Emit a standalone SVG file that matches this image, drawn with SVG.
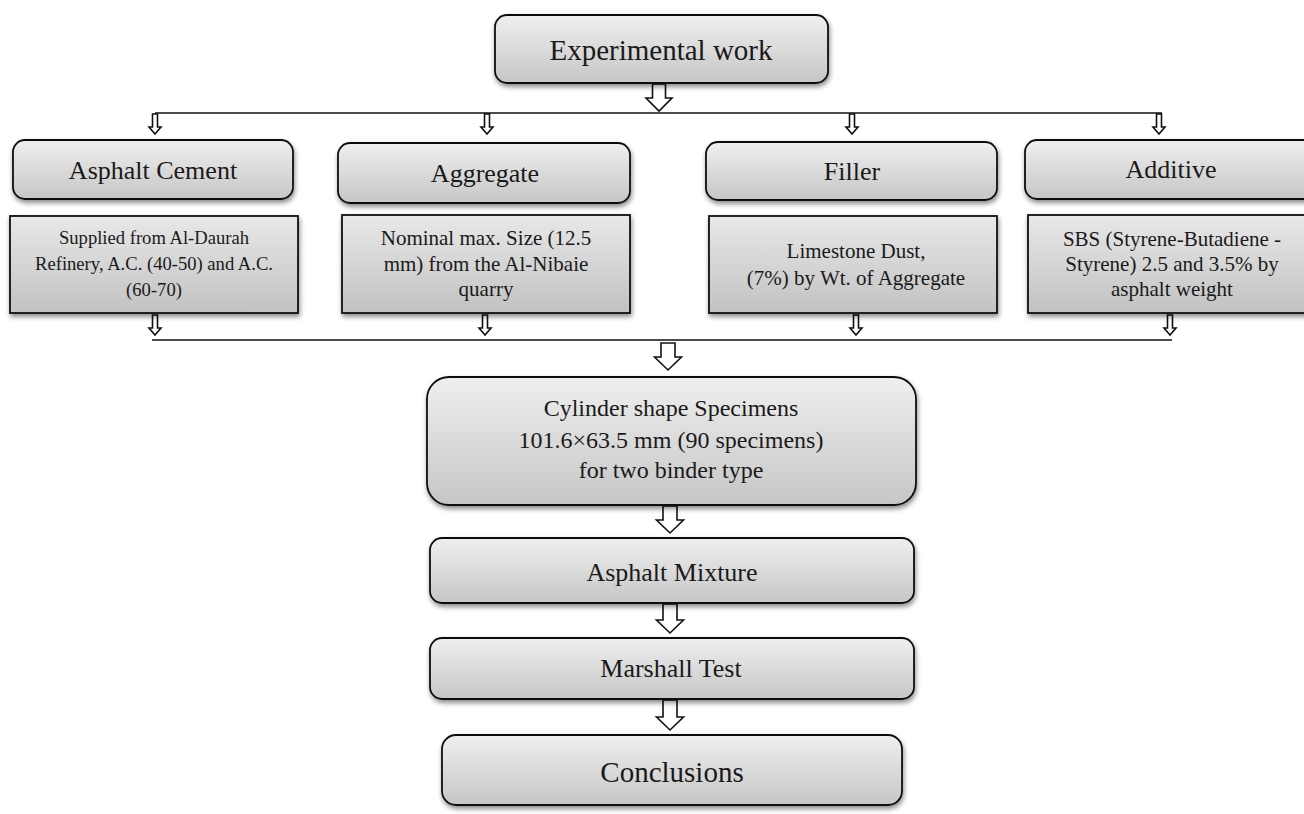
<svg xmlns="http://www.w3.org/2000/svg" width="1304" height="814" viewBox="0 0 1304 814">
  <defs>
    <linearGradient id="g" x1="0" y1="0" x2="0" y2="1">
      <stop offset="0" stop-color="#efefef"/>
      <stop offset="1" stop-color="#c6c6c6"/>
    </linearGradient>
    <linearGradient id="gd" x1="0" y1="0" x2="0" y2="1">
      <stop offset="0" stop-color="#e8e8e8"/>
      <stop offset="1" stop-color="#c2c2c2"/>
    </linearGradient>
    <filter id="sh" x="-10%" y="-10%" width="120%" height="140%">
      <feDropShadow dx="1" dy="3" stdDeviation="2.5" flood-color="#000" flood-opacity="0.45"/>
    </filter>
  </defs>
  <style>
    .box { fill: url(#g); stroke: #111; stroke-width: 1.8; filter: url(#sh); }
    .dbox { fill: url(#gd); stroke: #111; stroke-width: 1.8; filter: url(#sh); }
    .t { font-family: "Liberation Serif", "Times New Roman", serif; fill: #1a1a1a; text-anchor: middle; }
    .big { font-size: 29px; }
    .mid { font-size: 26px; }
    .cyl { font-size: 24px; }
    .sm { font-size: 21px; }
    .xs { font-size: 18.6px; }
    .line { stroke: #111; stroke-width: 1.6; fill: none; }
    .arr { fill: #fff; stroke: #111; stroke-width: 1.6; stroke-linejoin: miter; }
  </style>
  <rect width="1304" height="814" fill="#fff"/>

  <g id="connectors">
    <line class="line" x1="155" y1="113" x2="1162" y2="113"/>
    <line class="line" x1="152" y1="340" x2="1172" y2="340"/>
    <!-- big arrows -->
    <path class="arr" d="M652.5,84 L665.5,84 L665.5,98 L672,98 L659,111 L646,98 L652.5,98 Z"/>
    <path class="arr" d="M661,343 L675,343 L675,357 L681.5,357 L668,370 L654.5,357 L661,357 Z"/>
    <path class="arr" d="M663,506 L677,506 L677,520 L683.5,520 L670,533 L656.5,520 L663,520 Z"/>
    <path class="arr" d="M663,604 L677,604 L677,620 L683.5,620 L670,633 L656.5,620 L663,620 Z"/>
    <path class="arr" d="M663,700 L677,700 L677,717 L683.5,717 L670,730 L656.5,717 L663,717 Z"/>
    <!-- small arrows top -->
    <path class="arr" d="M152.5,114 L157.5,114 L157.5,127 L161,127 L155,134 L149,127 L152.5,127 Z"/>
    <path class="arr" d="M484.5,114 L489.5,114 L489.5,127 L493,127 L487,134 L481,127 L484.5,127 Z"/>
    <path class="arr" d="M849.5,114 L854.5,114 L854.5,127 L858,127 L852,134 L846,127 L849.5,127 Z"/>
    <path class="arr" d="M1156.5,114 L1161.5,114 L1161.5,127 L1165,127 L1159,134 L1153,127 L1156.5,127 Z"/>
    <!-- small arrows bottom -->
    <path class="arr" d="M152.5,315 L157.5,315 L157.5,328 L161,328 L155,335 L149,328 L152.5,328 Z"/>
    <path class="arr" d="M482.5,315 L487.5,315 L487.5,328 L491,328 L485,335 L479,328 L482.5,328 Z"/>
    <path class="arr" d="M853.5,315 L858.5,315 L858.5,328 L862,328 L856,335 L850,328 L853.5,328 Z"/>
    <path class="arr" d="M1167.5,315 L1172.5,315 L1172.5,328 L1176,328 L1170,335 L1164,328 L1167.5,328 Z"/>
  </g>

  <g id="experimental-work">
    <rect class="box" x="495" y="15" width="333" height="68" rx="12"/>
    <text class="t big" x="661" y="60">Experimental work</text>
  </g>

  <g id="asphalt-cement">
    <rect class="box" x="13" y="140" width="280" height="59" rx="12"/>
    <text class="t mid" x="153" y="179">Asphalt Cement</text>
  </g>
  <g id="asphalt-cement-detail">
    <rect class="dbox" x="10" y="216" width="288" height="97"/>
    <text class="t xs" x="154" y="244">Supplied from Al-Daurah</text>
    <text class="t xs" x="154" y="270">Refinery, A.C. (40-50) and A.C.</text>
    <text class="t xs" x="154" y="296">(60-70)</text>
  </g>

  <g id="aggregate">
    <rect class="box" x="338" y="143" width="292" height="60" rx="12"/>
    <text class="t mid" x="485" y="182">Aggregate</text>
  </g>
  <g id="aggregate-detail">
    <rect class="dbox" x="342" y="215" width="288" height="98"/>
    <text class="t sm" x="486" y="245">Nominal max. Size (12.5</text>
    <text class="t sm" x="486" y="271">mm) from the Al-Nibaie</text>
    <text class="t sm" x="486" y="296">quarry</text>
  </g>

  <g id="filler">
    <rect class="box" x="706" y="142" width="291" height="58" rx="12"/>
    <text class="t mid" x="852" y="180">Filler</text>
  </g>
  <g id="filler-detail">
    <rect class="dbox" x="709" y="216" width="288" height="97"/>
    <text class="t sm" x="856" y="258">Limestone Dust,</text>
    <text class="t sm" x="856" y="285">(7%) by Wt. of Aggregate</text>
  </g>

  <g id="additive">
    <rect class="box" x="1025" y="140" width="292" height="59" rx="12"/>
    <text class="t mid" x="1171" y="178">Additive</text>
  </g>
  <g id="additive-detail">
    <rect class="dbox" x="1028" y="215" width="290" height="98"/>
    <text class="t sm" x="1172" y="246">SBS (Styrene-Butadiene -</text>
    <text class="t sm" x="1172" y="271">Styrene) 2.5 and 3.5% by</text>
    <text class="t sm" x="1172" y="296">asphalt weight</text>
  </g>

  <g id="cylinder-specimens">
    <rect class="box" x="427" y="377" width="489" height="128" rx="22"/>
    <text class="t cyl" x="671" y="416">Cylinder shape Specimens</text>
    <text class="t cyl" x="671" y="448">101.6×63.5 mm (90 specimens)</text>
    <text class="t cyl" x="671" y="478">for two binder type</text>
  </g>

  <g id="asphalt-mixture">
    <rect class="box" x="430" y="538" width="484" height="65" rx="12"/>
    <text class="t mid" x="672" y="581">Asphalt Mixture</text>
  </g>

  <g id="marshall-test">
    <rect class="box" x="430" y="638" width="484" height="61" rx="12"/>
    <text class="t mid" x="671" y="677">Marshall Test</text>
  </g>

  <g id="conclusions">
    <rect class="box" x="442" y="735" width="460" height="70" rx="14"/>
    <text class="t big" x="672" y="782">Conclusions</text>
  </g>
</svg>
